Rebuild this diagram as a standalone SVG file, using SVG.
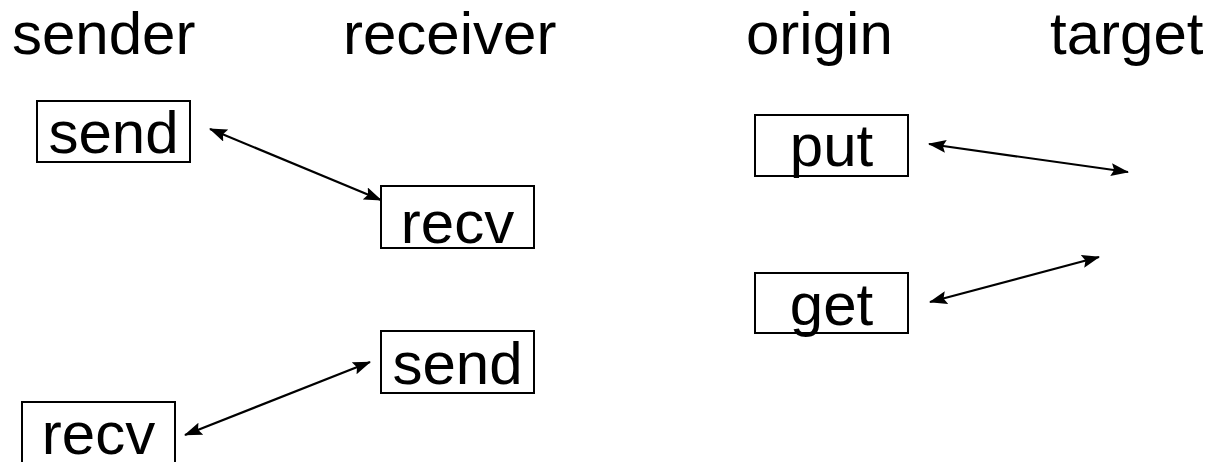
<svg xmlns="http://www.w3.org/2000/svg" width="1211" height="462" viewBox="0 0 1211 462">
  <style>
    text { font-family: "Liberation Sans", Arial, sans-serif; font-size: 60px; fill: #000; }
    .box { fill: #fff; stroke: #000; stroke-width: 2; }
    .mid { text-anchor: middle; }
    .link { stroke: #000; stroke-width: 2.2; fill: none; marker-start: url(#head); marker-end: url(#head); }
  </style>
  <defs>
    <marker id="head" viewBox="0 0 18 13" refX="17" refY="6.5" markerWidth="18" markerHeight="13" markerUnits="userSpaceOnUse" orient="auto-start-reverse">
      <path d="M0,0 L18,6.5 L0,13 L3,6.5 z" fill="#000"/>
    </marker>
  </defs>
  <rect width="1211" height="462" fill="#fff"/>

  <!-- column headings -->
  <g id="headings">
    <text x="12" y="54">sender</text>
    <text x="343" y="54">receiver</text>
    <text x="746" y="54">origin</text>
    <text x="1050" y="54">target</text>
  </g>

  <!-- two-sided communication -->
  <g id="send-top">
    <rect class="box" x="37" y="101" width="153" height="61"/>
    <text class="mid" x="113.5" y="153">send</text>
  </g>
  <g id="recv-top">
    <rect class="box" x="381" y="186" width="153" height="62"/>
    <text class="mid" x="457.5" y="243">recv</text>
  </g>
  <g id="send-bottom">
    <rect class="box" x="381" y="331" width="153" height="62"/>
    <text class="mid" x="457.5" y="384">send</text>
  </g>
  <g id="recv-bottom">
    <rect class="box" x="22" y="402" width="153" height="62"/>
    <text class="mid" x="98.5" y="454">recv</text>
  </g>

  <!-- one-sided communication -->
  <g id="put">
    <rect class="box" x="755" y="115" width="153" height="61"/>
    <text class="mid" x="831.5" y="166">put</text>
  </g>
  <g id="get">
    <rect class="box" x="755" y="273" width="153" height="60"/>
    <text class="mid" x="831.5" y="325">get</text>
  </g>

  <g id="connectors">
    <line class="link" x1="210" y1="129" x2="381" y2="200"/>
    <line class="link" x1="185" y1="435" x2="370" y2="362"/>
    <line class="link" x1="929" y1="144" x2="1128" y2="172"/>
    <line class="link" x1="930" y1="302" x2="1099" y2="257"/>
  </g>
</svg>
